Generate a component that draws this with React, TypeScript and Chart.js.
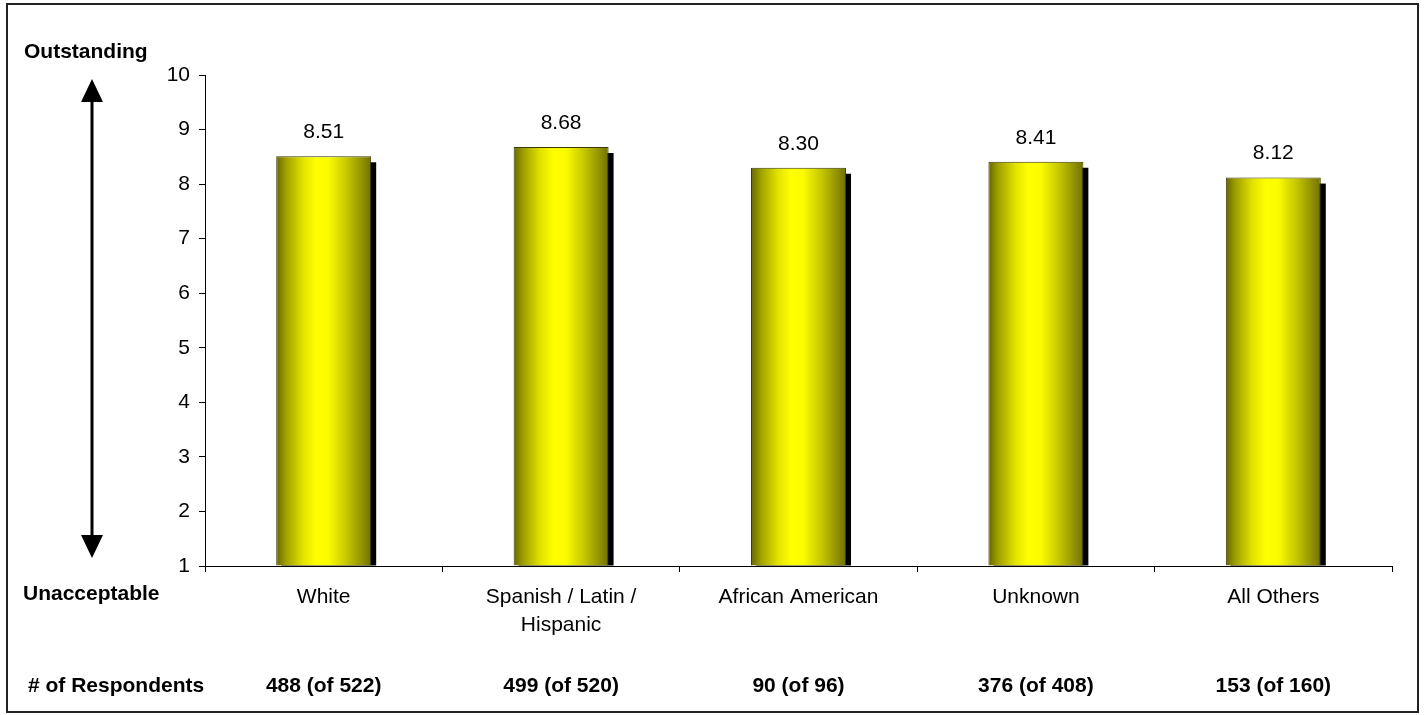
import React, { useEffect, useRef } from 'react';
import { Chart, registerables } from 'chart.js';

Chart.register(...registerables);

// Groups shown along the x axis
const categories: (string | string[])[] = [
  'White',
  ['Spanish / Latin /', 'Hispanic'],
  'African American',
  'Unknown',
  'All Others',
];

// Mean rating per group (1 = Unacceptable, 10 = Outstanding)
const scores = [8.51, 8.68, 8.3, 8.41, 8.12];

// Respondents who rated, and total respondents, per group
const respondents = [488, 499, 90, 376, 153];
const totals = [522, 520, 96, 408, 160];

const scaleMin = 1;
const scaleMax = 10;

const FONT = "'Liberation Sans', Arial, sans-serif";
const BAR_PERCENT = 0.4;

const decorations = {
  id: 'decorations',
  beforeDatasetsDraw(chart: any) {
    // drop shadow behind each bar
    const ctx = chart.ctx;
    const meta = chart.getDatasetMeta(0);
    ctx.save();
    ctx.fillStyle = '#000';
    meta.data.forEach((el: any) => {
      const { x, y, base, width } = el.getProps(['x', 'y', 'base', 'width'], true);
      ctx.fillRect(x - width / 2 + 5, y + 6, width, base - y - 6);
    });
    ctx.restore();
  },
  afterDatasetsDraw(chart: any) {
    // value labels above the bars
    const ctx = chart.ctx;
    const meta = chart.getDatasetMeta(0);
    ctx.save();
    ctx.fillStyle = '#000';
    ctx.font = `21px ${FONT}`;
    ctx.textAlign = 'center';
    ctx.textBaseline = 'middle';
    meta.data.forEach((el: any, i: number) => {
      const { x, y } = el.getProps(['x', 'y'], true);
      ctx.fillText(scores[i].toFixed(2), x, y - 24);
    });
    ctx.restore();
  },
  afterDraw(chart: any) {
    const ctx = chart.ctx;
    const xs = chart.scales.x;
    ctx.save();

    // outer frame
    ctx.strokeStyle = '#222';
    ctx.lineWidth = 2;
    ctx.strokeRect(7, 4, 1411, 708);

    // scale direction arrow
    ctx.fillStyle = '#000';
    ctx.strokeStyle = '#000';
    ctx.lineWidth = 3;
    ctx.beginPath();
    ctx.moveTo(92, 100);
    ctx.lineTo(92, 537);
    ctx.stroke();
    ctx.beginPath();
    ctx.moveTo(92, 79);
    ctx.lineTo(103, 102);
    ctx.lineTo(81, 102);
    ctx.closePath();
    ctx.fill();
    ctx.beginPath();
    ctx.moveTo(92, 558);
    ctx.lineTo(103, 535);
    ctx.lineTo(81, 535);
    ctx.closePath();
    ctx.fill();

    // scale end captions
    ctx.font = `bold 21px ${FONT}`;
    ctx.textAlign = 'left';
    ctx.textBaseline = 'middle';
    ctx.fillText('Outstanding', 24, 52);
    ctx.fillText('Unacceptable', 23, 594);

    // respondents row
    ctx.fillText('# of Respondents', 28, 686);
    ctx.textAlign = 'center';
    respondents.forEach((n, i) => {
      ctx.fillText(`${n} (of ${totals[i]})`, xs.getPixelForValue(i), 686);
    });
    ctx.restore();
  },
};

function barGradient(c: any) {
  const chart = c.chart;
  const xs = chart.scales && chart.scales.x;
  if (!xs || c.dataIndex === undefined || !xs.width) return '#ffff00';
  const cx = xs.getPixelForValue(c.dataIndex);
  const w = (xs.width / categories.length) * BAR_PERCENT;
  const g = chart.ctx.createLinearGradient(cx - w / 2, 0, cx + w / 2, 0);
  g.addColorStop(0, '#666600');
  g.addColorStop(0.1, '#9e9e00');
  g.addColorStop(0.28, '#e2e200');
  g.addColorStop(0.42, '#ffff00');
  g.addColorStop(0.55, '#fcfc00');
  g.addColorStop(0.75, '#c4c400');
  g.addColorStop(0.92, '#8c8c00');
  g.addColorStop(1, '#707000');
  return g;
}

export default function App() {
  const canvasRef = useRef<HTMLCanvasElement | null>(null);

  useEffect(() => {
    const canvas = canvasRef.current;
    if (!canvas) return;
    const chart = new Chart(canvas, {
      type: 'bar',
      data: {
        labels: categories as any,
        datasets: [
          {
            data: scores,
            backgroundColor: barGradient as any,
            borderColor: '#3a3a00',
            borderWidth: 1,
            categoryPercentage: 1,
            barPercentage: BAR_PERCENT,
            base: scaleMin,
          } as any,
        ],
      },
      options: {
        responsive: false,
        animation: false,
        events: [],
        layout: { padding: { left: 0, top: 75, right: 34, bottom: 0 } },
        plugins: {
          legend: { display: false },
          tooltip: { enabled: false },
        },
        scales: {
          x: {
            grid: {
              offset: true,
              drawOnChartArea: false,
              drawTicks: true,
              tickLength: 6,
              color: '#000',
            },
            border: { color: '#000', width: 1 },
            ticks: {
              color: '#000',
              font: { family: FONT, size: 21, lineHeight: 1.35 },
              padding: 11,
              maxRotation: 0,
              autoSkip: false,
            },
            afterFit: (s: any) => {
              s.height = 149;
            },
          },
          y: {
            min: scaleMin,
            max: scaleMax,
            grid: {
              drawOnChartArea: false,
              drawTicks: true,
              tickLength: 6,
              color: '#000',
            },
            border: { color: '#000', width: 1 },
            ticks: {
              stepSize: 1,
              color: '#000',
              font: { family: FONT, size: 21 },
              padding: 9,
            },
            afterFit: (s: any) => {
              s.width = 205;
            },
          },
        },
      },
      plugins: [decorations],
    });
    return () => chart.destroy();
  }, []);

  return (
    <div style={{ position: 'fixed', left: 0, top: 0, width: 1426, height: 715, background: '#fff' }}>
      <canvas ref={canvasRef} width={1426} height={715} style={{ display: 'block' }} />
    </div>
  );
}
